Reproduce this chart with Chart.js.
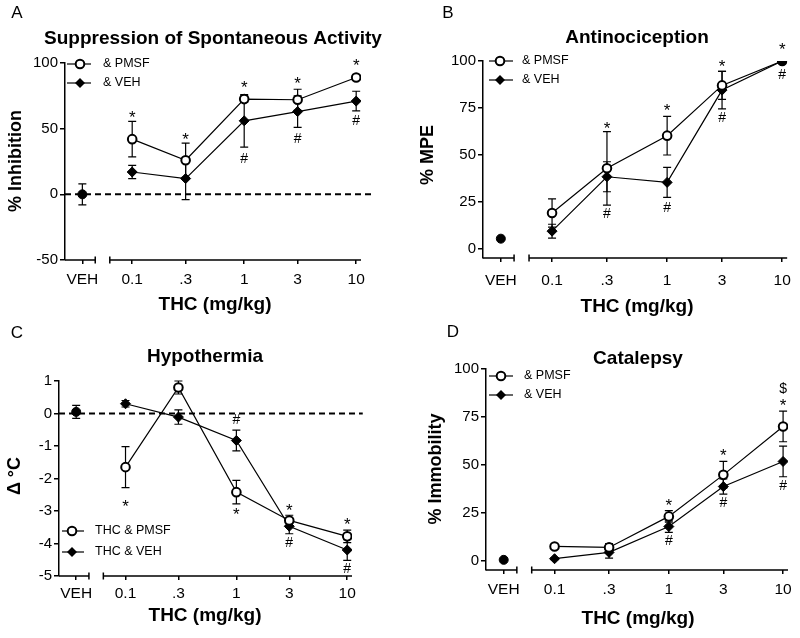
<!DOCTYPE html>
<html>
<head>
<meta charset="utf-8">
<script src="https://cdn.jsdelivr.net/npm/chart.js@4.4.0/dist/chart.umd.min.js"></script>
<style>
  body { margin: 0; background: #fff; }
  #wrap { position: relative; width: 800px; height: 638px; }
  canvas { position: absolute; }
</style>
</head>
<body>
<div id="wrap">
  <canvas id="cA" width="400" height="319" style="left:0;top:0"></canvas>
  <canvas id="cB" width="400" height="319" style="left:400px;top:0"></canvas>
  <canvas id="cC" width="400" height="319" style="left:0;top:319px"></canvas>
  <canvas id="cD" width="400" height="319" style="left:400px;top:319px"></canvas>
</div>
<script>
const doses = [0.1, 0.3, 1, 3, 10];
const doseLabels = ['0.1', '.3', '1', '3', '10'];

// A: suppression of spontaneous activity (% inhibition)
const actPmsf = [42, 26, 72.5, 72, 89];
const actPmsfErr = [13.5, 13, 2.5, 8, 2];
const actVeh = [17, 12, 56, 63, 71];
const actVehErr = [5, 16, 20, 12, 7.5];
const actCtrl = 0, actCtrlErr = 8;
const actStars = [62, 45, 85, 88, 101.5];
const actHash = [null, null, 28, 43, 57];

// B: antinociception (% MPE)
const mpePmsf = [19, 42.8, 60.2, 87, 100];
const mpePmsfErr = [7.5, 19.6, 10.3, 7.5, 0];
const mpeVeh = [9.3, 38.3, 35.3, 84.5, 100];
const mpeVehErr = [3.7, 8, 8, 10, 0];
const mpeCtrl = 5.3, mpeCtrlErr = 0;
const mpeStars = [null, 66.5, 75.7, 99.5, 108.7];
const mpeHash = [null, 18.9, 22.2, 70.4, 93.2];

// C: hypothermia (delta degrees C)
const tempPmsf = [-1.65, 0.8, -2.42, -3.29, -3.78];
const tempPmsfErr = [0.63, 0.2, 0.36, 0.16, 0.19];
const tempVeh = [0.3, -0.11, -0.83, -3.47, -4.2];
const tempVehErr = [0.1, 0.22, 0.32, 0.23, 0.32];
const tempCtrl = 0.05, tempCtrlErr = 0.2;
const tempStars = [-2.72, null, -2.98, -2.85, -3.29];
const tempHash = [null, null, -0.18, -3.96, -4.75];

// D: catalepsy (% immobility)
const catPmsf = [7.3, 6.8, 23, 44.7, 70];
const catPmsfErr = [1, 2, 3, 7, 8];
const catVeh = [0.9, 4.2, 17.7, 38.6, 51.7];
const catVehErr = [0.5, 3, 3, 4, 8];
const catCtrl = 0.3, catCtrlErr = 0;
const catStars = [null, null, 30.8, 56.9, 83];
const catHash = [null, null, 10.8, 30.3, 39.5];
const catDollar = [null, null, null, null, 90];

const FONT = "'Liberation Sans', Arial, Helvetica, sans-serif";
const vehX = Math.pow(10, -1.445);
const xMin = Math.pow(10, -1.6), xMax = Math.pow(10, 1.043);
const breakL = Math.pow(10, -1.33), breakR = Math.pow(10, -1.2);

const pts = vals => doses.map((d, i) => ({ x: d, y: vals[i] }));

const errorBars = {
  id: 'errorBars',
  beforeDatasetsDraw(chart) {
    const ctx = chart.ctx, xs = chart.scales.x, ys = chart.scales.y;
    ctx.save();
    ctx.strokeStyle = '#000';
    ctx.lineWidth = 1.2;
    chart.data.datasets.forEach(ds => {
      if (!ds.errors) return;
      ds.data.forEach((p, i) => {
        const e = ds.errors[i];
        if (!e) return;
        const x = xs.getPixelForValue(p.x);
        const y1 = ys.getPixelForValue(p.y + e), y2 = ys.getPixelForValue(p.y - e);
        ctx.beginPath();
        ctx.moveTo(x, y1); ctx.lineTo(x, y2);
        ctx.moveTo(x - 4, y1); ctx.lineTo(x + 4, y1);
        ctx.moveTo(x - 4, y2); ctx.lineTo(x + 4, y2);
        ctx.stroke();
      });
    });
    ctx.restore();
  }
};

function marker(ctx, style, x, y) {
  ctx.beginPath();
  if (style === 'open') {
    ctx.arc(x, y, 4.3, 0, Math.PI * 2);
    ctx.fillStyle = '#fff'; ctx.fill();
    ctx.lineWidth = 2; ctx.stroke();
  } else {
    ctx.moveTo(x, y - 5); ctx.lineTo(x + 5, y); ctx.lineTo(x, y + 5); ctx.lineTo(x - 5, y);
    ctx.closePath();
    ctx.fillStyle = '#000'; ctx.fill();
  }
}

function makePanel(id, p) {
  const W = 400, H = 319;
  const datasets = [
    { label: p.names[0], data: pts(p.pmsf), errors: p.pmsfErr, borderColor: '#000', borderWidth: 1.2,
      pointStyle: 'circle', pointRadius: 4.3, pointBorderWidth: 2,
      pointBackgroundColor: p.pmsfFill || '#fff', pointBorderColor: '#000' },
    { label: p.names[1], data: pts(p.veh), errors: p.vehErr, borderColor: '#000', borderWidth: 1.2,
      pointStyle: 'rectRot', pointRadius: 5, pointBorderWidth: 1,
      pointBackgroundColor: '#000', pointBorderColor: '#000' },
    { label: 'VEH', data: [{ x: vehX, y: p.ctrl }], errors: [p.ctrlErr], showLine: false,
      pointStyle: 'circle', pointRadius: 4.5, pointBackgroundColor: '#000', pointBorderColor: '#000' }
  ];
  if (p.zeroLine) {
    datasets.push({ data: [{ x: xMin, y: 0 }, { x: Math.pow(10, 1.14), y: 0 }], borderColor: '#000',
      borderWidth: 2, borderDash: [6, 4], pointRadius: 0, clip: false });
  }

  const decor = {
    id: 'decor',
    afterDraw(chart) {
      const ctx = chart.ctx, xs = chart.scales.x, ys = chart.scales.y, a = chart.chartArea;
      ctx.save();
      ctx.fillStyle = '#000';
      ctx.strokeStyle = '#000';

      // broken x axis
      const yb = a.bottom, xl = xs.getPixelForValue(breakL), xr = xs.getPixelForValue(breakR);
      ctx.lineWidth = 1.5;
      ctx.beginPath();
      ctx.moveTo(a.left, yb); ctx.lineTo(xl, yb);
      ctx.moveTo(xl, yb - 3.5); ctx.lineTo(xl, yb + 3.5);
      ctx.moveTo(xr, yb - 3.5); ctx.lineTo(xr, yb + 3.5);
      ctx.moveTo(xr, yb); ctx.lineTo(a.right, yb);
      ctx.stroke();

      // significance marks
      p.marks.forEach(m => {
        ctx.font = m.size + 'px ' + FONT;
        ctx.textAlign = 'center';
        ctx.textBaseline = 'alphabetic';
        m.vals.forEach((v, i) => {
          if (v == null) return;
          ctx.fillText(m.ch, xs.getPixelForValue(doses[i]), ys.getPixelForValue(v) + m.off * m.size);
        });
      });

      // texts
      ctx.textAlign = 'center';
      ctx.textBaseline = 'middle';
      ctx.font = '17px ' + FONT;
      ctx.fillText(p.letter, p.letterPos[0], p.letterPos[1]);
      ctx.font = 'bold 19px ' + FONT;
      ctx.fillText(p.title, p.titlePos[0], p.titlePos[1]);
      ctx.fillText('THC (mg/kg)', p.xTitlePos[0], p.xTitlePos[1]);
      ctx.save();
      ctx.translate(p.yTitlePos[0], p.yTitlePos[1]);
      ctx.rotate(-Math.PI / 2);
      ctx.font = 'bold 18px ' + FONT;
      ctx.fillText(p.yTitle, 0, 0);
      ctx.restore();

      // legend
      const lg = p.legend;
      ['open', 'diamond'].forEach((st, i) => {
        const y = lg.rows[i];
        ctx.lineWidth = 1.2;
        ctx.beginPath();
        ctx.moveTo(lg.x1, y); ctx.lineTo(lg.x2, y);
        ctx.stroke();
        marker(ctx, st, lg.xm, y);
        ctx.fillStyle = '#000';
        ctx.font = '12.5px ' + FONT;
        ctx.textAlign = 'left';
        ctx.fillText(p.names[i], lg.xt, y);
      });
      ctx.restore();
    }
  };

  return new Chart(document.getElementById(id), {
    type: 'line',
    data: { datasets },
    plugins: [errorBars, decor],
    options: {
      responsive: false,
      animation: false,
      layout: { padding: { left: 0, top: p.area.top, right: W - p.area.right, bottom: 0 } },
      plugins: { legend: { display: false }, tooltip: { enabled: false } },
      scales: {
        x: {
          type: 'logarithmic', min: xMin, max: xMax,
          afterBuildTicks: s => { s.ticks = [vehX].concat(doses).map(v => ({ value: v })); },
          afterFit: s => { s.height = H - p.area.bottom; },
          ticks: {
            autoSkip: false, maxRotation: 0, padding: p.xPad, color: '#000',
            font: { family: FONT, size: 15.5 },
            callback: (v, i) => ['VEH'].concat(doseLabels)[i]
          },
          grid: { display: true, drawOnChartArea: false, drawTicks: true, tickLength: 4, color: '#000', lineWidth: 1.5 },
          border: { display: false }
        },
        y: {
          min: p.yMin, max: p.yMax,
          afterBuildTicks: s => { s.ticks = p.yTicks.map(v => ({ value: v })); },
          afterFit: s => { s.width = p.area.left; },
          ticks: { padding: 2, color: '#000', font: { family: FONT, size: 15 }, callback: v => String(v) },
          grid: { drawOnChartArea: false, drawTicks: true, tickLength: 5, color: '#000', lineWidth: 1.5 },
          border: { display: true, color: '#000', width: 1.5 }
        }
      }
    }
  });
}

makePanel('cA', {
  letter: 'A', letterPos: [17, 13],
  title: 'Suppression of Spontaneous Activity', titlePos: [213, 39],
  yTitle: '% Inhibition', yTitlePos: [16, 161], xTitlePos: [215, 305],
  area: { left: 65, top: 63, right: 361, bottom: 260 }, xPad: 6,
  yMin: -50, yMax: 100, yTicks: [-50, 0, 50, 100], zeroLine: true,
  names: ['& PMSF', '& VEH'],
  legend: { x1: 67, x2: 91, xm: 80, xt: 103, rows: [64, 83] },
  pmsf: actPmsf, pmsfErr: actPmsfErr, veh: actVeh, vehErr: actVehErr, ctrl: actCtrl, ctrlErr: actCtrlErr,
  marks: [{ ch: '*', size: 17, off: 0.58, vals: actStars }, { ch: '#', size: 14, off: 0.36, vals: actHash }]
});

makePanel('cB', {
  letter: 'B', letterPos: [48, 13],
  title: 'Antinociception', titlePos: [237, 38],
  yTitle: '% MPE', yTitlePos: [28, 155], xTitlePos: [237, 307],
  area: { left: 83, top: 61, right: 390, bottom: 258 }, xPad: 9,
  yMin: -5, yMax: 100, yTicks: [0, 25, 50, 75, 100], zeroLine: false,
  names: ['& PMSF', '& VEH'],
  legend: { x1: 89, x2: 113, xm: 100, xt: 122, rows: [61, 80] },
  pmsf: mpePmsf, pmsfErr: mpePmsfErr, veh: mpeVeh, vehErr: mpeVehErr, ctrl: mpeCtrl, ctrlErr: mpeCtrlErr,
  pmsfFill: ['#fff', '#fff', '#fff', '#fff', '#000'],
  marks: [{ ch: '*', size: 17, off: 0.58, vals: mpeStars }, { ch: '#', size: 14, off: 0.36, vals: mpeHash }]
});

makePanel('cC', {
  letter: 'C', letterPos: [17, 14],
  title: 'Hypothermia', titlePos: [205, 38],
  yTitle: 'Δ °C', yTitlePos: [15, 157], xTitlePos: [205, 297],
  area: { left: 59, top: 62, right: 352, bottom: 257 }, xPad: 4,
  yMin: -5, yMax: 1, yTicks: [-5, -4, -3, -2, -1, 0, 1], zeroLine: true,
  names: ['THC & PMSF', 'THC & VEH'],
  legend: { x1: 62, x2: 84, xm: 72, xt: 95, rows: [212, 233] },
  pmsf: tempPmsf, pmsfErr: tempPmsfErr, veh: tempVeh, vehErr: tempVehErr, ctrl: tempCtrl, ctrlErr: tempCtrlErr,
  marks: [{ ch: '*', size: 17, off: 0.58, vals: tempStars }, { ch: '#', size: 14, off: 0.36, vals: tempHash }]
});

makePanel('cD', {
  letter: 'D', letterPos: [53, 13],
  title: 'Catalepsy', titlePos: [238, 40],
  yTitle: '% Immobility', yTitlePos: [36, 150], xTitlePos: [238, 300],
  area: { left: 86, top: 50, right: 388, bottom: 251 }, xPad: 6,
  yMin: -5, yMax: 100, yTicks: [0, 25, 50, 75, 100], zeroLine: false,
  names: ['& PMSF', '& VEH'],
  legend: { x1: 89, x2: 113, xm: 101, xt: 124, rows: [57, 76] },
  pmsf: catPmsf, pmsfErr: catPmsfErr, veh: catVeh, vehErr: catVehErr, ctrl: catCtrl, ctrlErr: catCtrlErr,
  marks: [{ ch: '*', size: 17, off: 0.58, vals: catStars }, { ch: '#', size: 14, off: 0.36, vals: catHash },
          { ch: '$', size: 14, off: 0.36, vals: catDollar }]
});
</script>
</body>
</html>
